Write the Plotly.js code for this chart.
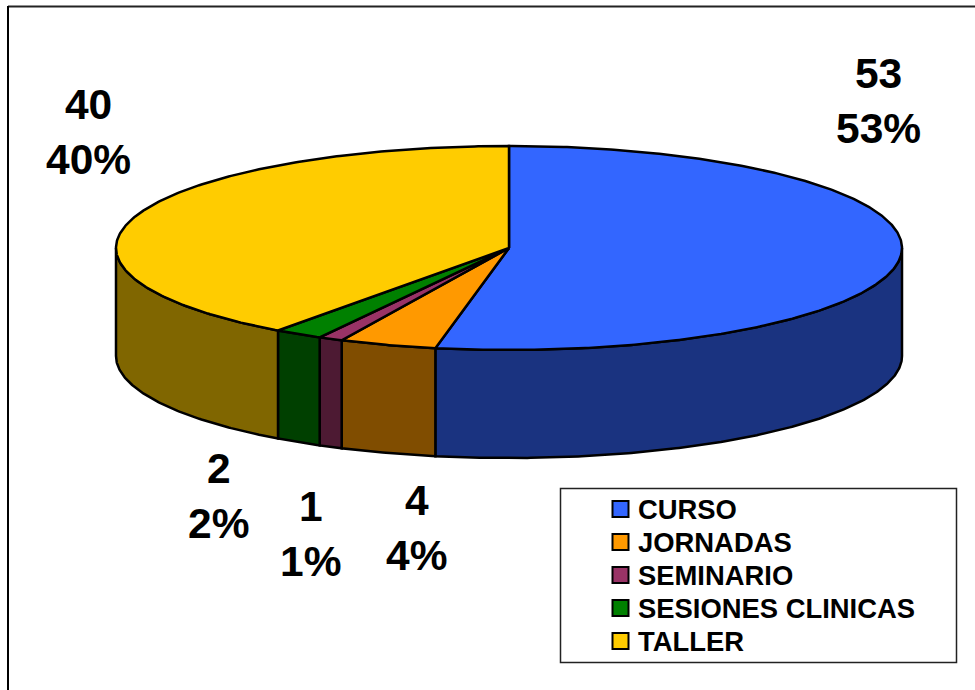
<!DOCTYPE html>
<html>
<head>
<meta charset="utf-8">
<script src="https://cdn.plot.ly/plotly-3.0.1.min.js"></script>
<style>html,body{margin:0;padding:0;background:#fff}#chart{width:975px;height:690px}</style>
</head>
<body>
<div id="chart"></div>
<script>
const categories = ["CURSO", "JORNADAS", "SEMINARIO", "SESIONES CLINICAS", "TALLER"];
const values = [53, 4, 1, 2, 40];
const topColors = ["#3366FF", "#FF9900", "#993366", "#008000", "#FFCC00"];
const sideColors = ["#1A3380", "#804D00", "#4D1A33", "#004000", "#806600"];
const labelX = [878.5, 416.5, 310.5, 218.5, 88.5];
const labelY = [101, 528, 534, 496, 132];
const legendY = [509, 542, 575, 608, 641];

// Pie projection, in the axis units of the hidden axes
const cx = 509, cy = 248, rx = 393, ry = 102, depth = 108;
const total = values.reduce((a, b) => a + b, 0);

function arc(a0, a1, dy) {
  const n = Math.max(2, Math.ceil(Math.abs(a1 - a0) / 0.5));
  const xs = [], ys = [];
  for (let i = 0; i <= n; i++) {
    const t = (a0 + (a1 - a0) * i / n) * Math.PI / 180;
    xs.push(cx + rx * Math.sin(t));
    ys.push(cy - ry * Math.cos(t) + dy);
  }
  return [xs, ys];
}

const line = {color: "#000", width: 2.5};
const sides = [], tops = [];
let cum = 0;
values.forEach((v, i) => {
  const a0 = cum / total * 360;
  cum += v;
  const a1 = cum / total * 360;
  const hover = categories[i] + ": " + v + " (" + Math.round(v / total * 100) + "%)";
  const s0 = Math.max(a0, 90), s1 = Math.min(a1, 270);
  if (s1 > s0) {
    const [ux, uy] = arc(s0, s1, 0);
    const [lx, ly] = arc(s1, s0, depth);
    sides.push({
      type: "scatter", mode: "lines", fill: "toself", fillcolor: sideColors[i],
      x: ux.concat(lx, [ux[0]]), y: uy.concat(ly, [uy[0]]),
      line, showlegend: false, hoverinfo: "text", text: hover
    });
  }
  const [tx, ty] = arc(a0, a1, 0);
  tops.push({
    type: "scatter", mode: "lines", fill: "toself", fillcolor: topColors[i], name: categories[i],
    x: [cx].concat(tx, [cx]), y: [cy].concat(ty, [cy]),
    line, showlegend: false, hoverinfo: "text", text: hover
  });
});

const swatches = {
  type: "scatter", mode: "markers", x: categories.map(() => 620.5), y: legendY,
  marker: {symbol: "square", size: 16, color: topColors, line: {color: "#000", width: 2}},
  showlegend: false, hoverinfo: "skip"
};

const font = "Liberation Sans, Arial, sans-serif";
const annotations = values.map((v, i) => ({
  x: labelX[i], y: labelY[i], xref: "x", yref: "y", showarrow: false,
  xanchor: "center", yanchor: "middle",
  text: "<b>" + v + "<br>" + Math.round(v / total * 100) + "%</b>",
  font: {family: font, size: 42.5, color: "#000"}
})).concat(categories.map((c, i) => ({
  x: 638, y: legendY[i], xref: "x", yref: "y", showarrow: false,
  xanchor: "left", yanchor: "middle", xshift: -2,
  text: "<b>" + c + "</b>",
  font: {family: font, size: 27.4, color: "#000"}
})));

const shapes = [
  {type: "line", xref: "x", yref: "y", x0: 8, y0: 6.5, x1: 975, y1: 6.5, line: {color: "#222", width: 2}},
  {type: "line", xref: "x", yref: "y", x0: 8, y0: 6, x1: 8, y1: 690, line: {color: "#000", width: 2}},
  {type: "rect", xref: "x", yref: "y", x0: 560.5, y0: 488.5, x1: 956.5, y1: 662.5, line: {color: "#222", width: 1.5}, fillcolor: "#fff", layer: "below"}
];

const axis = {visible: false, fixedrange: true, showgrid: false, zeroline: false};
Plotly.newPlot("chart", sides.concat(tops, [swatches]), {
  width: 975, height: 690,
  margin: {l: 0, r: 0, t: 0, b: 0},
  paper_bgcolor: "#fff", plot_bgcolor: "#fff",
  showlegend: false,
  xaxis: Object.assign({range: [0, 975]}, axis),
  yaxis: Object.assign({range: [690, 0]}, axis),
  annotations, shapes
}, {displayModeBar: false, responsive: false});
</script>
</body>
</html>
